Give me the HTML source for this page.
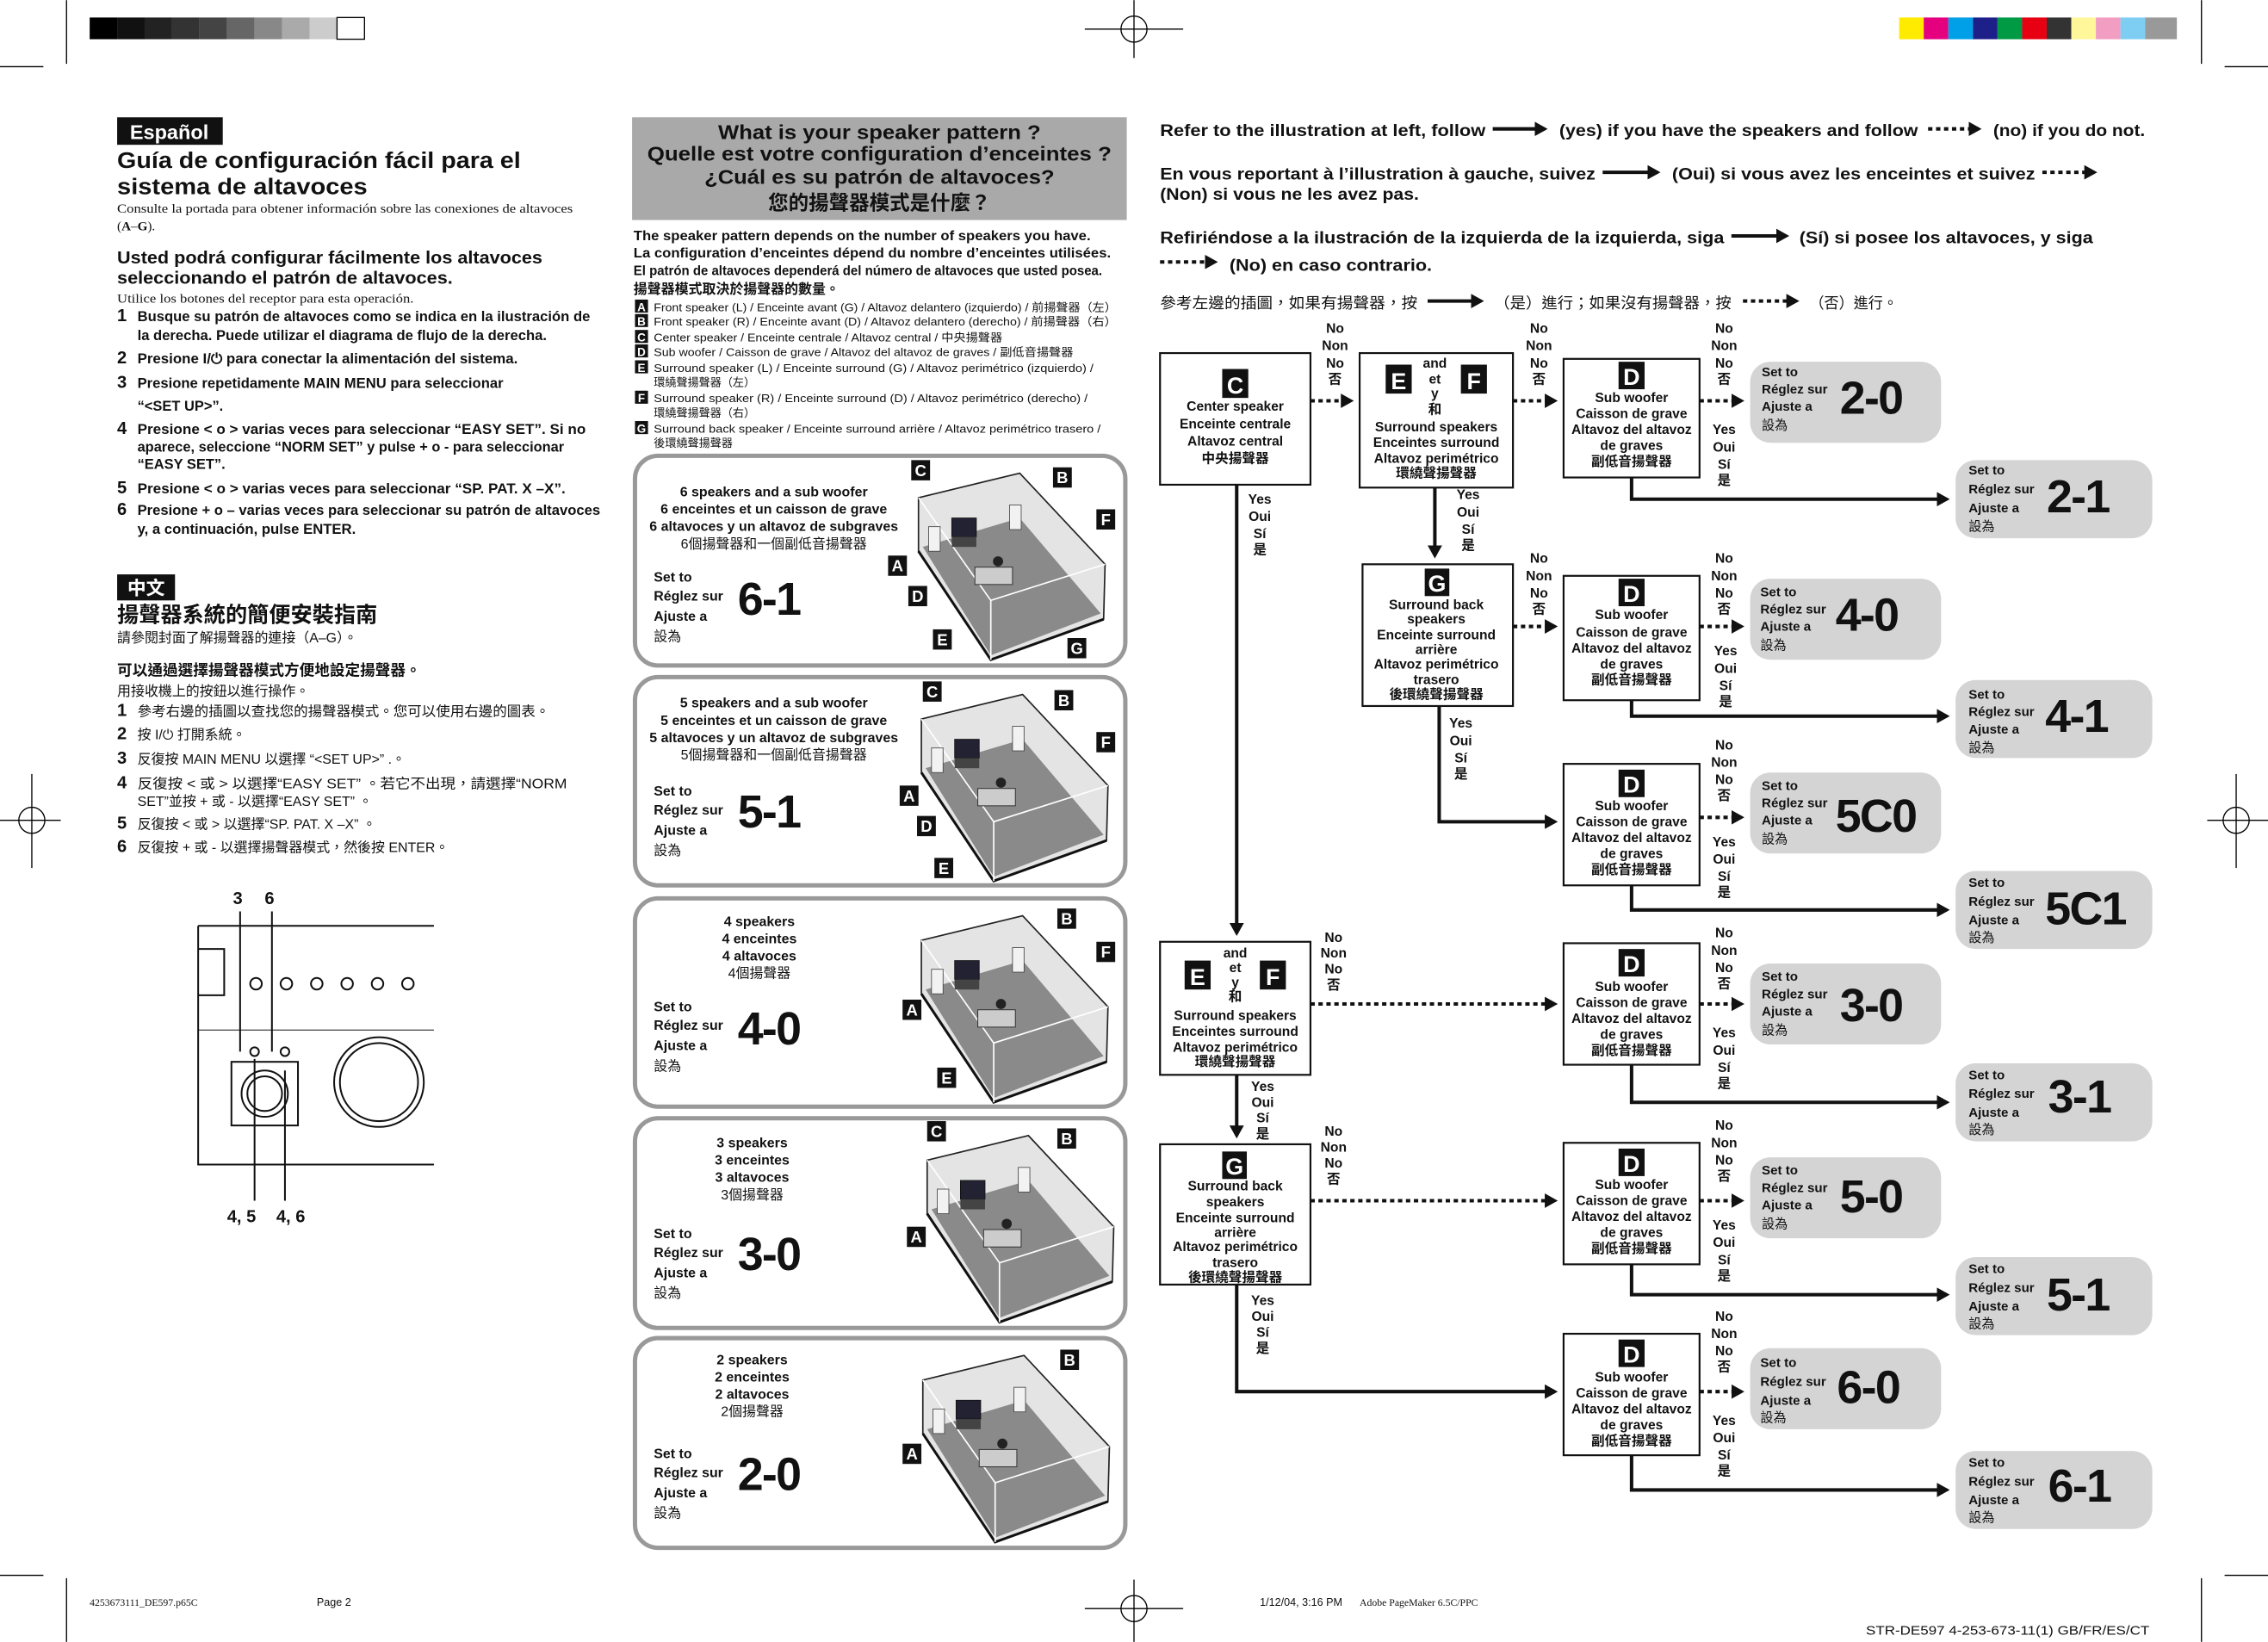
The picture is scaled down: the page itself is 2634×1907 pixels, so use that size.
<!DOCTYPE html>
<html><head><meta charset="utf-8"><style>
html,body{margin:0;padding:0;background:#fff}
svg{display:block}
text{font-family:"Liberation Sans","Noto Sans CJK TC",sans-serif;fill:#111}
.b{font-weight:bold}
.s{font-family:"Liberation Serif","Noto Serif CJK SC",serif}
.fl{font-size:9.3px;font-weight:bold;text-anchor:middle}
.yn{font-size:9.3px;font-weight:bold;text-anchor:middle}
.rs{font-size:9px;font-weight:bold}
.rn{font-size:32px;font-weight:bold;letter-spacing:-1px}
.bw{fill:#fff;font-weight:bold;text-anchor:middle}
</style></head><body>
<svg width="2634" height="1907" viewBox="0 0 1568 1135" xmlns="http://www.w3.org/2000/svg">
<defs>
<marker id="ar" markerWidth="10" markerHeight="10" refX="7" refY="5" orient="auto" markerUnits="userSpaceOnUse"><path d="M0,0 L9,5 L0,10 Z" fill="#111"/></marker>
<g id="room">
<polygon points="641,30 711,13 770,76 769,114 691,142 641,67" fill="#e4e4e4" stroke="#222" stroke-width="1"/>
<polygon points="644,64 711,44 767,110 691,139" fill="#8a8a8a"/>
<polyline points="641,67 691,142 769,114" fill="none" stroke="#111" stroke-width="1.8"/>
<polyline points="641,30 691,101 770,76" fill="none" stroke="#fff" stroke-width="1"/>
<line x1="691" y1="101" x2="691" y2="142" stroke="#fff" stroke-width="1"/>
<rect x="664" y="44" width="17" height="13" fill="#223" stroke="#111" stroke-width="0.5"/>
<rect x="664" y="57" width="17" height="7" fill="#444"/>
<rect x="648" y="50" width="8" height="17" fill="#f2f2f2" stroke="#444" stroke-width="0.5"/>
<rect x="704" y="35" width="8" height="17" fill="#f2f2f2" stroke="#444" stroke-width="0.5"/>
<rect x="680" y="78" width="26" height="12" fill="#ccc" stroke="#333" stroke-width="0.6"/>
<circle cx="696" cy="74" r="3.5" fill="#222"/>
</g>
</defs>

<!-- top color bars -->
<g>
<rect x="62" y="12" width="19" height="15" fill="#000"/><rect x="81" y="12" width="19" height="15" fill="#111"/><rect x="100" y="12" width="19" height="15" fill="#222"/><rect x="119" y="12" width="19" height="15" fill="#333"/><rect x="138" y="12" width="19" height="15" fill="#444"/><rect x="157" y="12" width="19" height="15" fill="#666"/><rect x="176" y="12" width="19" height="15" fill="#888"/><rect x="195" y="12" width="19" height="15" fill="#aaa"/><rect x="214" y="12" width="19" height="15" fill="#ccc"/><rect x="233" y="12" width="19" height="15" fill="#fff" stroke="#000" stroke-width="0.8"/>
<rect x="1313" y="12" width="17" height="15" fill="#ffeb00"/><rect x="1330" y="12" width="17" height="15" fill="#e4007f"/><rect x="1347" y="12" width="17" height="15" fill="#00a0e9"/><rect x="1364" y="12" width="17" height="15" fill="#1d2088"/><rect x="1381" y="12" width="17" height="15" fill="#009944"/><rect x="1398" y="12" width="17" height="15" fill="#e60012"/><rect x="1415" y="12" width="17" height="15" fill="#333"/><rect x="1432" y="12" width="17" height="15" fill="#fff799"/><rect x="1449" y="12" width="17" height="15" fill="#f19ec2"/><rect x="1466" y="12" width="17" height="15" fill="#7ecef4"/><rect x="1483" y="12" width="22" height="15" fill="#999"/>
</g>
<!-- crop marks -->
<g stroke="#000" stroke-width="0.8" fill="none">
<line x1="46" y1="0" x2="46" y2="44"/><line x1="0" y1="46" x2="30" y2="46"/>
<line x1="1522" y1="0" x2="1522" y2="44"/><line x1="1538" y1="46" x2="1568" y2="46"/>
<line x1="46" y1="1091" x2="46" y2="1135"/><line x1="0" y1="1089" x2="30" y2="1089"/>
<line x1="1522" y1="1091" x2="1522" y2="1135"/><line x1="1538" y1="1089" x2="1568" y2="1089"/>
<circle cx="784" cy="20" r="9"/><line x1="750" y1="20" x2="818" y2="20"/><line x1="784" y1="0" x2="784" y2="40"/>
<circle cx="784" cy="1112" r="9"/><line x1="750" y1="1112" x2="818" y2="1112"/><line x1="784" y1="1092" x2="784" y2="1135"/>
<circle cx="22" cy="567" r="9"/><line x1="0" y1="567" x2="42" y2="567"/><line x1="22" y1="535" x2="22" y2="600"/>
<circle cx="1546" cy="567" r="9"/><line x1="1526" y1="567" x2="1568" y2="567"/><line x1="1546" y1="535" x2="1546" y2="600"/>
</g>

<!-- LEFT COLUMN -->
<rect x="81" y="81" width="73" height="19" fill="#111"/>
<text x="117" y="96" class="bw" font-weight="bold" style="font-size:14px;fill:#fff">Español</text>
<text x="81" y="116" font-weight="bold" style="font-size:15.5px" textLength="279" lengthAdjust="spacingAndGlyphs">Guía de configuración fácil para el</text>
<text x="81" y="134" font-weight="bold" style="font-size:15.5px" textLength="173" lengthAdjust="spacingAndGlyphs">sistema de altavoces</text>
<text x="81" y="147" class="s" style="font-size:9px" textLength="315" lengthAdjust="spacingAndGlyphs">Consulte la portada para obtener información sobre las conexiones de altavoces</text>
<text x="81" y="159" class="s" style="font-size:9px">(<tspan font-weight="bold">A</tspan>–<tspan font-weight="bold">G</tspan>).</text>
<text x="81" y="182" font-weight="bold" style="font-size:12px" textLength="294" lengthAdjust="spacingAndGlyphs">Usted podrá configurar fácilmente los altavoces</text>
<text x="81" y="196" font-weight="bold" style="font-size:12px" textLength="232" lengthAdjust="spacingAndGlyphs">seleccionando el patrón de altavoces.</text>
<text x="81" y="209" class="s" style="font-size:9px" textLength="205" lengthAdjust="spacingAndGlyphs">Utilice los botones del receptor para esta operación.</text>
<g style="font-size:9.8px" font-weight="bold">
<text x="81" y="222" style="font-size:12px">1</text><text x="95" y="222" textLength="313" lengthAdjust="spacingAndGlyphs">Busque su patrón de altavoces como se indica en la ilustración de</text>
<text x="95" y="235" textLength="283" lengthAdjust="spacingAndGlyphs">la derecha. Puede utilizar el diagrama de flujo de la derecha.</text>
<text x="81" y="251" style="font-size:12px">2</text><text x="95" y="251" textLength="263" lengthAdjust="spacingAndGlyphs">Presione I/⏻ para conectar la alimentación del sistema.</text>
<text x="81" y="268" style="font-size:12px">3</text><text x="95" y="268" textLength="253" lengthAdjust="spacingAndGlyphs">Presione repetidamente MAIN MENU para seleccionar</text>
<text x="95" y="284">“&lt;SET UP&gt;”.</text>
<text x="81" y="300" style="font-size:12px">4</text><text x="95" y="300" textLength="310" lengthAdjust="spacingAndGlyphs">Presione &lt; o &gt; varias veces para seleccionar “EASY SET”. Si no</text>
<text x="95" y="312" textLength="295" lengthAdjust="spacingAndGlyphs">aparece, seleccione “NORM SET” y pulse + o - para seleccionar</text>
<text x="95" y="324">“EASY SET”.</text>
<text x="81" y="341" style="font-size:12px">5</text><text x="95" y="341" textLength="296" lengthAdjust="spacingAndGlyphs">Presione &lt; o &gt; varias veces para seleccionar “SP. PAT. X –X”.</text>
<text x="81" y="356" style="font-size:12px">6</text><text x="95" y="356" textLength="320" lengthAdjust="spacingAndGlyphs">Presione + o – varias veces para seleccionar su patrón de altavoces</text>
<text x="95" y="369" textLength="151" lengthAdjust="spacingAndGlyphs">y, a continuación, pulse ENTER.</text>
</g>
<rect x="81" y="397" width="40" height="18" fill="#111"/>
<text x="101" y="411" class="bw" style="font-size:13px;fill:#fff">中文</text>
<text x="81" y="430" font-weight="bold" style="font-size:15px">揚聲器系統的簡便安裝指南</text>
<text x="81" y="444" style="font-size:9.5px">請參閱封面了解揚聲器的連接（A–G）。</text>
<text x="81" y="467" font-weight="bold" style="font-size:10.5px">可以通過選擇揚聲器模式方便地設定揚聲器。</text>
<text x="81" y="481" style="font-size:9.5px">用接收機上的按鈕以進行操作。</text>
<g style="font-size:9.5px">
<text x="81" y="495" font-weight="bold" style="font-size:12px">1</text><text x="95" y="495" textLength="285" lengthAdjust="spacingAndGlyphs">參考右邊的插圖以查找您的揚聲器模式。您可以使用右邊的圖表。</text>
<text x="81" y="511" font-weight="bold" style="font-size:12px">2</text><text x="95" y="511">按 I/⏻ 打開系統。</text>
<text x="81" y="528" font-weight="bold" style="font-size:12px">3</text><text x="95" y="528">反復按 MAIN MENU 以選擇 “&lt;SET UP&gt;” .。</text>
<text x="81" y="545" font-weight="bold" style="font-size:12px">4</text><text x="95" y="545" textLength="297" lengthAdjust="spacingAndGlyphs">反復按 &lt; 或 &gt; 以選擇“EASY SET” 。若它不出現，請選擇“NORM</text>
<text x="95" y="557">SET”並按 + 或 - 以選擇“EASY SET” 。</text>
<text x="81" y="573" font-weight="bold" style="font-size:12px">5</text><text x="95" y="573">反復按 &lt; 或 &gt; 以選擇“SP. PAT. X –X” 。</text>
<text x="81" y="589" font-weight="bold" style="font-size:12px">6</text><text x="95" y="589">反復按 + 或 - 以選擇揚聲器模式，然後按 ENTER。</text>
</g>
<!-- receiver -->
<text x="161" y="625" font-weight="bold" style="font-size:12px">3</text><text x="183" y="625" font-weight="bold" style="font-size:12px">6</text>
<text x="157" y="845" font-weight="bold" style="font-size:12px">4, 5</text><text x="191" y="845" font-weight="bold" style="font-size:12px">4, 6</text>
<g stroke="#111" fill="none" stroke-width="1.2">
<path d="M137,640 L300,640 M137,640 L137,805 L300,805"/>
<path d="M137,656 L155,656 L155,688 L137,688"/>
<line x1="137" y1="712" x2="300" y2="712" stroke-width="0.6"/>
<circle cx="177" cy="680" r="4"/><circle cx="198" cy="680" r="4"/><circle cx="219" cy="680" r="4"/><circle cx="240" cy="680" r="4"/><circle cx="261" cy="680" r="4"/><circle cx="282" cy="680" r="4"/>
<circle cx="262" cy="748" r="31"/><circle cx="262" cy="748" r="27"/>
<rect x="160" y="734" width="46" height="44"/>
<circle cx="183" cy="756" r="16"/><circle cx="183" cy="756" r="12"/>
<circle cx="176" cy="727" r="3"/><circle cx="197" cy="727" r="3"/>
<line x1="166" y1="630" x2="166" y2="727"/><line x1="188" y1="630" x2="188" y2="727"/>
<line x1="176" y1="732" x2="176" y2="830"/><line x1="197" y1="740" x2="197" y2="830"/>
</g>

<!-- MIDDLE COLUMN -->
<rect x="437" y="81" width="342" height="71" fill="#a9a9a9"/>
<g font-weight="bold" style="font-size:14px" text-anchor="middle">
<text x="608" y="96" textLength="223" lengthAdjust="spacingAndGlyphs">What is your speaker pattern ?</text>
<text x="608" y="111" textLength="321" lengthAdjust="spacingAndGlyphs">Quelle est votre configuration d’enceintes ?</text>
<text x="608" y="127" textLength="242" lengthAdjust="spacingAndGlyphs">¿Cuál es su patrón de altavoces?</text>
<text x="608" y="145">您的揚聲器模式是什麼？</text>
</g>
<g style="font-size:9.5px" font-weight="bold">
<text x="438" y="166" textLength="316" lengthAdjust="spacingAndGlyphs">The speaker pattern depends on the number of speakers you have.</text>
<text x="438" y="178" textLength="330" lengthAdjust="spacingAndGlyphs">La configuration d’enceintes dépend du nombre d’enceintes utilisées.</text>
<text x="438" y="190" textLength="324" lengthAdjust="spacingAndGlyphs">El patrón de altavoces dependerá del número de altavoces que usted posea.</text>
<text x="438" y="203" style="font-size:9.5px">揚聲器模式取決於揚聲器的數量。</text>
</g>
<g style="font-size:7.8px">
<rect x="439" y="207" width="9" height="9" fill="#111"/><text x="443.5" y="215" class="bw" style="font-size:8px;fill:#fff">A</text><text x="452" y="215" textLength="320" lengthAdjust="spacingAndGlyphs">Front speaker (L) / Enceinte avant (G) / Altavoz delantero (izquierdo) / 前揚聲器（左）</text>
<rect x="439" y="217" width="9" height="9" fill="#111"/><text x="443.5" y="225" class="bw" style="font-size:8px;fill:#fff">B</text><text x="452" y="225" textLength="320" lengthAdjust="spacingAndGlyphs">Front speaker (R) / Enceinte avant (D) / Altavoz delantero (derecho) / 前揚聲器（右）</text>
<rect x="439" y="228" width="9" height="9" fill="#111"/><text x="443.5" y="236" class="bw" style="font-size:8px;fill:#fff">C</text><text x="452" y="236" textLength="241" lengthAdjust="spacingAndGlyphs">Center speaker / Enceinte centrale / Altavoz central / 中央揚聲器</text>
<rect x="439" y="238" width="9" height="9" fill="#111"/><text x="443.5" y="246" class="bw" style="font-size:8px;fill:#fff">D</text><text x="452" y="246" textLength="290" lengthAdjust="spacingAndGlyphs">Sub woofer / Caisson de grave / Altavoz del altavoz de graves / 副低音揚聲器</text>
<rect x="439" y="249" width="9" height="9" fill="#111"/><text x="443.5" y="257" class="bw" style="font-size:8px;fill:#fff">E</text><text x="452" y="257" textLength="304" lengthAdjust="spacingAndGlyphs">Surround speaker (L) / Enceinte surround (G) / Altavoz perimétrico (izquierdo) /</text>
<text x="452" y="267">環繞聲揚聲器（左）</text>
<rect x="439" y="270" width="9" height="9" fill="#111"/><text x="443.5" y="278" class="bw" style="font-size:8px;fill:#fff">F</text><text x="452" y="278" textLength="300" lengthAdjust="spacingAndGlyphs">Surround speaker (R) / Enceinte surround (D) / Altavoz perimétrico (derecho) /</text>
<text x="452" y="288">環繞聲揚聲器（右）</text>
<rect x="439" y="291" width="9" height="9" fill="#111"/><text x="443.5" y="299" class="bw" style="font-size:8px;fill:#fff">G</text><text x="452" y="299" textLength="309" lengthAdjust="spacingAndGlyphs">Surround back speaker / Enceinte surround arrière / Altavoz perimétrico trasero /</text>
<text x="452" y="309">後環繞聲揚聲器</text>
</g>

<!-- panels -->
<g fill="none" stroke="#999" stroke-width="3">
<rect x="439" y="315" width="339" height="145" rx="16"/>
<rect x="439" y="468" width="339" height="144" rx="16"/>
<rect x="439" y="621" width="339" height="144" rx="16"/>
<rect x="439" y="773" width="339" height="145" rx="16"/>
<rect x="439" y="925" width="339" height="145" rx="16"/>
</g>
<use href="#room" transform="translate(-6,314)"/>
<use href="#room" transform="translate(-4,467)"/>
<use href="#room" transform="translate(-4,620)"/>
<use href="#room" transform="translate(0,772)"/>
<use href="#room" transform="translate(-3,924)"/>
<!-- panel texts -->
<g style="font-size:9.5px" font-weight="bold" text-anchor="middle">
<text x="535" y="343">6 speakers and a sub woofer</text><text x="535" y="355">6 enceintes et un caisson de grave</text><text x="535" y="367">6 altavoces y un altavoz de subgraves</text><text x="535" y="379" font-weight="normal">6個揚聲器和一個副低音揚聲器</text>
<text x="535" y="489">5 speakers and a sub woofer</text><text x="535" y="501">5 enceintes et un caisson de grave</text><text x="535" y="513">5 altavoces y un altavoz de subgraves</text><text x="535" y="525" font-weight="normal">5個揚聲器和一個副低音揚聲器</text>
<text x="525" y="640">4 speakers</text><text x="525" y="652">4 enceintes</text><text x="525" y="664">4 altavoces</text><text x="525" y="676" font-weight="normal">4個揚聲器</text>
<text x="520" y="793">3 speakers</text><text x="520" y="805">3 enceintes</text><text x="520" y="817">3 altavoces</text><text x="520" y="829" font-weight="normal">3個揚聲器</text>
<text x="520" y="943">2 speakers</text><text x="520" y="955">2 enceintes</text><text x="520" y="967">2 altavoces</text><text x="520" y="979" font-weight="normal">2個揚聲器</text>
</g>
<g style="font-size:9.5px" font-weight="bold">
<text x="452" y="402">Set to</text><text x="452" y="415">Réglez sur</text><text x="452" y="429">Ajuste a</text><text x="452" y="443" font-weight="normal">設為</text>
<text x="452" y="550">Set to</text><text x="452" y="563">Réglez sur</text><text x="452" y="577">Ajuste a</text><text x="452" y="591" font-weight="normal">設為</text>
<text x="452" y="699">Set to</text><text x="452" y="712">Réglez sur</text><text x="452" y="726">Ajuste a</text><text x="452" y="740" font-weight="normal">設為</text>
<text x="452" y="856">Set to</text><text x="452" y="869">Réglez sur</text><text x="452" y="883">Ajuste a</text><text x="452" y="897" font-weight="normal">設為</text>
<text x="452" y="1008">Set to</text><text x="452" y="1021">Réglez sur</text><text x="452" y="1035">Ajuste a</text><text x="452" y="1049" font-weight="normal">設為</text>
</g>
<g class="rn">
<text x="510" y="425">6-1</text><text x="510" y="572">5-1</text><text x="510" y="722">4-0</text><text x="510" y="878">3-0</text><text x="510" y="1030">2-0</text>
</g>
<!-- panel letter badges -->
<g>
<rect x="630" y="318" width="13" height="14" fill="#111"/><text x="636.5" y="329" class="bw" style="font-size:11px;fill:#fff">C</text>
<rect x="728" y="323" width="13" height="14" fill="#111"/><text x="734.5" y="334" class="bw" style="font-size:11px;fill:#fff">B</text>
<rect x="758" y="352" width="13" height="14" fill="#111"/><text x="764.5" y="363" class="bw" style="font-size:11px;fill:#fff">F</text>
<rect x="614" y="384" width="13" height="14" fill="#111"/><text x="620.5" y="395" class="bw" style="font-size:11px;fill:#fff">A</text>
<rect x="628" y="405" width="13" height="14" fill="#111"/><text x="634.5" y="416" class="bw" style="font-size:11px;fill:#fff">D</text>
<rect x="645" y="435" width="13" height="14" fill="#111"/><text x="651.5" y="446" class="bw" style="font-size:11px;fill:#fff">E</text>
<rect x="738" y="441" width="13" height="14" fill="#111"/><text x="744.5" y="452" class="bw" style="font-size:11px;fill:#fff">G</text>

<rect x="638" y="471" width="13" height="14" fill="#111"/><text x="644.5" y="482" class="bw" style="font-size:11px;fill:#fff">C</text>
<rect x="729" y="477" width="13" height="14" fill="#111"/><text x="735.5" y="488" class="bw" style="font-size:11px;fill:#fff">B</text>
<rect x="758" y="506" width="13" height="14" fill="#111"/><text x="764.5" y="517" class="bw" style="font-size:11px;fill:#fff">F</text>
<rect x="622" y="543" width="13" height="14" fill="#111"/><text x="628.5" y="554" class="bw" style="font-size:11px;fill:#fff">A</text>
<rect x="634" y="564" width="13" height="14" fill="#111"/><text x="640.5" y="575" class="bw" style="font-size:11px;fill:#fff">D</text>
<rect x="646" y="593" width="13" height="14" fill="#111"/><text x="652.5" y="604" class="bw" style="font-size:11px;fill:#fff">E</text>

<rect x="731" y="628" width="13" height="14" fill="#111"/><text x="737.5" y="639" class="bw" style="font-size:11px;fill:#fff">B</text>
<rect x="758" y="651" width="13" height="14" fill="#111"/><text x="764.5" y="662" class="bw" style="font-size:11px;fill:#fff">F</text>
<rect x="624" y="691" width="13" height="14" fill="#111"/><text x="630.5" y="702" class="bw" style="font-size:11px;fill:#fff">A</text>
<rect x="648" y="738" width="13" height="14" fill="#111"/><text x="654.5" y="749" class="bw" style="font-size:11px;fill:#fff">E</text>

<rect x="641" y="775" width="13" height="14" fill="#111"/><text x="647.5" y="786" class="bw" style="font-size:11px;fill:#fff">C</text>
<rect x="731" y="780" width="13" height="14" fill="#111"/><text x="737.5" y="791" class="bw" style="font-size:11px;fill:#fff">B</text>
<rect x="627" y="848" width="13" height="14" fill="#111"/><text x="633.5" y="859" class="bw" style="font-size:11px;fill:#fff">A</text>

<rect x="733" y="933" width="13" height="14" fill="#111"/><text x="739.5" y="944" class="bw" style="font-size:11px;fill:#fff">B</text>
<rect x="624" y="998" width="13" height="14" fill="#111"/><text x="630.5" y="1009" class="bw" style="font-size:11px;fill:#fff">A</text>
</g>

<!-- RIGHT TOP TEXT -->
<g style="font-size:11.5px" font-weight="bold">
<text x="802" y="94" textLength="225" lengthAdjust="spacingAndGlyphs">Refer to the illustration at left, follow</text>
<text x="1078" y="94" textLength="248" lengthAdjust="spacingAndGlyphs">(yes) if you have the speakers and follow</text>
<text x="1378" y="94" textLength="105" lengthAdjust="spacingAndGlyphs">(no) if you do not.</text>
<text x="802" y="124" textLength="301" lengthAdjust="spacingAndGlyphs">En vous reportant à l’illustration à gauche, suivez</text>
<text x="1156" y="124" textLength="251" lengthAdjust="spacingAndGlyphs">(Oui) si vous avez les enceintes et suivez</text>
<text x="802" y="138" textLength="179" lengthAdjust="spacingAndGlyphs">(Non) si vous ne les avez pas.</text>
<text x="802" y="168" textLength="390" lengthAdjust="spacingAndGlyphs">Refiriéndose a la ilustración de la izquierda de la izquierda, siga</text>
<text x="1244" y="168" textLength="203" lengthAdjust="spacingAndGlyphs">(Sí) si posee los altavoces, y siga</text>
<text x="850" y="187" textLength="140" lengthAdjust="spacingAndGlyphs">(No) en caso contrario.</text>
<text x="802" y="213" font-weight="normal" textLength="178" lengthAdjust="spacingAndGlyphs" style="font-size:10.5px">參考左邊的插圖，如果有揚聲器，按</text>
<text x="1033" y="213" font-weight="normal" textLength="164" lengthAdjust="spacingAndGlyphs" style="font-size:10.5px">（是）進行；如果沒有揚聲器，按</text>
<text x="1251" y="213" font-weight="normal" textLength="61" lengthAdjust="spacingAndGlyphs" style="font-size:10.5px">（否）進行。</text>
</g>
<g stroke="#111" stroke-width="2.4" fill="none">
<line x1="1032" y1="89" x2="1068" y2="89" marker-end="url(#ar)"/>
<line x1="1333" y1="89" x2="1368" y2="89" stroke-dasharray="3,2.5" marker-end="url(#ar)"/>
<line x1="1108" y1="119" x2="1146" y2="119" marker-end="url(#ar)"/>
<line x1="1412" y1="119" x2="1448" y2="119" stroke-dasharray="3,2.5" marker-end="url(#ar)"/>
<line x1="1197" y1="163" x2="1235" y2="163" marker-end="url(#ar)"/>
<line x1="802" y1="181" x2="840" y2="181" stroke-dasharray="3,2.5" marker-end="url(#ar)"/>
<line x1="987" y1="208" x2="1024" y2="208" marker-end="url(#ar)"/>
<line x1="1205" y1="208" x2="1242" y2="208" stroke-dasharray="3,2.5" marker-end="url(#ar)"/>
</g>

<!-- FLOWCHART: result gray boxes -->
<g fill="#d4d4d4">
<rect x="1210" y="250" width="132" height="56" rx="14"/><rect x="1352" y="318" width="136" height="54" rx="14"/>
<rect x="1210" y="400" width="132" height="56" rx="14"/><rect x="1352" y="470" width="136" height="54" rx="14"/>
<rect x="1210" y="534" width="132" height="56" rx="14"/><rect x="1352" y="602" width="136" height="54" rx="14"/>
<rect x="1210" y="666" width="132" height="56" rx="14"/><rect x="1352" y="735" width="136" height="54" rx="14"/>
<rect x="1210" y="800" width="132" height="56" rx="14"/><rect x="1352" y="869" width="136" height="54" rx="14"/>
<rect x="1210" y="932" width="132" height="56" rx="14"/><rect x="1352" y="1003" width="136" height="54" rx="14"/>
</g>
<g class="rs">
<text x="1218" y="260">Set to</text><text x="1218" y="272">Réglez sur</text><text x="1218" y="284">Ajuste a</text><text x="1218" y="297" font-weight="normal">設為</text>
<text x="1361" y="328">Set to</text><text x="1361" y="341">Réglez sur</text><text x="1361" y="354">Ajuste a</text><text x="1361" y="367" font-weight="normal">設為</text>
<text x="1217" y="412">Set to</text><text x="1217" y="424">Réglez sur</text><text x="1217" y="436">Ajuste a</text><text x="1217" y="449" font-weight="normal">設為</text>
<text x="1361" y="483">Set to</text><text x="1361" y="495">Réglez sur</text><text x="1361" y="507">Ajuste a</text><text x="1361" y="520" font-weight="normal">設為</text>
<text x="1218" y="546">Set to</text><text x="1218" y="558">Réglez sur</text><text x="1218" y="570">Ajuste a</text><text x="1218" y="583" font-weight="normal">設為</text>
<text x="1361" y="613">Set to</text><text x="1361" y="626">Réglez sur</text><text x="1361" y="639">Ajuste a</text><text x="1361" y="651" font-weight="normal">設為</text>
<text x="1218" y="678">Set to</text><text x="1218" y="690">Réglez sur</text><text x="1218" y="702">Ajuste a</text><text x="1218" y="715" font-weight="normal">設為</text>
<text x="1361" y="746">Set to</text><text x="1361" y="759">Réglez sur</text><text x="1361" y="772">Ajuste a</text><text x="1361" y="784" font-weight="normal">設為</text>
<text x="1218" y="812">Set to</text><text x="1218" y="824">Réglez sur</text><text x="1218" y="836">Ajuste a</text><text x="1218" y="849" font-weight="normal">設為</text>
<text x="1361" y="880">Set to</text><text x="1361" y="893">Réglez sur</text><text x="1361" y="906">Ajuste a</text><text x="1361" y="918" font-weight="normal">設為</text>
<text x="1217" y="945">Set to</text><text x="1217" y="958">Réglez sur</text><text x="1217" y="971">Ajuste a</text><text x="1217" y="983" font-weight="normal">設為</text>
<text x="1361" y="1014">Set to</text><text x="1361" y="1027">Réglez sur</text><text x="1361" y="1040">Ajuste a</text><text x="1361" y="1052" font-weight="normal">設為</text>
</g>
<g class="rn">
<text x="1272" y="286">2-0</text><text x="1415" y="354">2-1</text>
<text x="1269" y="436">4-0</text><text x="1414" y="506">4-1</text>
<text x="1269" y="575">5C0</text><text x="1414" y="639">5C1</text>
<text x="1272" y="706">3-0</text><text x="1416" y="769">3-1</text>
<text x="1272" y="838">5-0</text><text x="1415" y="906">5-1</text>
<text x="1270" y="970">6-0</text><text x="1416" y="1038">6-1</text>
</g>

<!-- flowchart boxes -->
<g fill="#fff" stroke="#111" stroke-width="1.3">
<rect x="802" y="244" width="104" height="91"/>
<rect x="940" y="244" width="106" height="93"/>
<rect x="942" y="390" width="104" height="98"/>
<rect x="802" y="651" width="104" height="92"/>
<rect x="802" y="791" width="104" height="97"/>
<rect x="1081" y="248" width="94" height="82"/>
<rect x="1081" y="398" width="94" height="86"/>
<rect x="1081" y="528" width="94" height="84"/>
<rect x="1081" y="652" width="94" height="84"/>
<rect x="1081" y="790" width="94" height="84"/>
<rect x="1081" y="922" width="94" height="84"/>
</g>
<g fill="#111">
<rect x="845" y="255" width="18" height="20"/><rect x="958" y="252" width="18" height="20"/><rect x="1010" y="252" width="18" height="20"/>
<rect x="985" y="393" width="17" height="19"/>
<rect x="819" y="664" width="18" height="20"/><rect x="871" y="664" width="18" height="20"/>
<rect x="845" y="796" width="17" height="19"/>
<rect x="1119" y="250" width="18" height="19"/><rect x="1119" y="400" width="18" height="19"/><rect x="1119" y="532" width="18" height="19"/><rect x="1119" y="656" width="18" height="19"/><rect x="1119" y="794" width="18" height="19"/><rect x="1119" y="926" width="18" height="19"/>
</g>
<g class="bw" style="font-size:16px;fill:#fff">
<text x="854" y="272" style="fill:#fff">C</text><text x="967" y="269" style="fill:#fff">E</text><text x="1019" y="269" style="fill:#fff">F</text>
<text x="993.5" y="409" style="fill:#fff">G</text>
<text x="828" y="681" style="fill:#fff">E</text><text x="880" y="681" style="fill:#fff">F</text>
<text x="853.5" y="812" style="fill:#fff">G</text>
<text x="1128" y="266" style="fill:#fff">D</text><text x="1128" y="416" style="fill:#fff">D</text><text x="1128" y="548" style="fill:#fff">D</text><text x="1128" y="672" style="fill:#fff">D</text><text x="1128" y="810" style="fill:#fff">D</text><text x="1128" y="942" style="fill:#fff">D</text>
</g>
<g class="fl">
<text x="854" y="284">Center speaker</text><text x="854" y="296">Enceinte centrale</text><text x="854" y="308">Altavoz central</text><text x="854" y="320">中央揚聲器</text>
<text x="992" y="254">and</text><text x="992" y="265">et</text><text x="992" y="275">y</text><text x="992" y="286">和</text>
<text x="993" y="298">Surround speakers</text><text x="993" y="309">Enceintes surround</text><text x="993" y="320">Altavoz perimétrico</text><text x="993" y="330">環繞聲揚聲器</text>
<text x="993" y="421">Surround back</text><text x="993" y="431">speakers</text><text x="993" y="442">Enceinte surround</text><text x="993" y="452">arrière</text><text x="993" y="462">Altavoz perimétrico</text><text x="993" y="473">trasero</text><text x="993" y="483">後環繞聲揚聲器</text>
<text x="854" y="662">and</text><text x="854" y="672">et</text><text x="854" y="682">y</text><text x="854" y="692">和</text>
<text x="854" y="705">Surround speakers</text><text x="854" y="716">Enceintes surround</text><text x="854" y="727">Altavoz perimétrico</text><text x="854" y="737">環繞聲揚聲器</text>
<text x="854" y="823">Surround back</text><text x="854" y="834">speakers</text><text x="854" y="845">Enceinte surround</text><text x="854" y="855">arrière</text><text x="854" y="865">Altavoz perimétrico</text><text x="854" y="876">trasero</text><text x="854" y="886">後環繞聲揚聲器</text>
</g>
<g class="fl">
<text x="1128" y="278">Sub woofer</text><text x="1128" y="289">Caisson de grave</text><text x="1128" y="300">Altavoz del altavoz</text><text x="1128" y="311">de graves</text><text x="1128" y="322">副低音揚聲器</text>
<text x="1128" y="428">Sub woofer</text><text x="1128" y="440">Caisson de grave</text><text x="1128" y="451">Altavoz del altavoz</text><text x="1128" y="462">de graves</text><text x="1128" y="473">副低音揚聲器</text>
<text x="1128" y="560">Sub woofer</text><text x="1128" y="571">Caisson de grave</text><text x="1128" y="582">Altavoz del altavoz</text><text x="1128" y="593">de graves</text><text x="1128" y="604">副低音揚聲器</text>
<text x="1128" y="685">Sub woofer</text><text x="1128" y="696">Caisson de grave</text><text x="1128" y="707">Altavoz del altavoz</text><text x="1128" y="718">de graves</text><text x="1128" y="729">副低音揚聲器</text>
<text x="1128" y="822">Sub woofer</text><text x="1128" y="833">Caisson de grave</text><text x="1128" y="844">Altavoz del altavoz</text><text x="1128" y="855">de graves</text><text x="1128" y="866">副低音揚聲器</text>
<text x="1128" y="955">Sub woofer</text><text x="1128" y="966">Caisson de grave</text><text x="1128" y="977">Altavoz del altavoz</text><text x="1128" y="988">de graves</text><text x="1128" y="999">副低音揚聲器</text>
</g>
<g class="yn">
<text x="923" y="230">No</text><text x="923" y="242">Non</text><text x="923" y="254">No</text><text x="923" y="265">否</text>
<text x="1064" y="230">No</text><text x="1064" y="242">Non</text><text x="1064" y="254">No</text><text x="1064" y="265">否</text>
<text x="1192" y="230">No</text><text x="1192" y="242">Non</text><text x="1192" y="254">No</text><text x="1192" y="265">否</text>
<text x="1192" y="300">Yes</text><text x="1192" y="312">Oui</text><text x="1192" y="324">Sí</text><text x="1192" y="335">是</text>
<text x="871" y="348">Yes</text><text x="871" y="360">Oui</text><text x="871" y="372">Sí</text><text x="871" y="383">是</text>
<text x="1015" y="345">Yes</text><text x="1015" y="357">Oui</text><text x="1015" y="369">Sí</text><text x="1015" y="380">是</text>
<text x="1064" y="389">No</text><text x="1064" y="401">Non</text><text x="1064" y="413">No</text><text x="1064" y="424">否</text>
<text x="1192" y="389">No</text><text x="1192" y="401">Non</text><text x="1192" y="413">No</text><text x="1192" y="424">否</text>
<text x="1193" y="453">Yes</text><text x="1193" y="465">Oui</text><text x="1193" y="477">Sí</text><text x="1193" y="488">是</text>
<text x="1010" y="503">Yes</text><text x="1010" y="515">Oui</text><text x="1010" y="527">Sí</text><text x="1010" y="538">是</text>
<text x="1192" y="518">No</text><text x="1192" y="530">Non</text><text x="1192" y="542">No</text><text x="1192" y="553">否</text>
<text x="1192" y="585">Yes</text><text x="1192" y="597">Oui</text><text x="1192" y="609">Sí</text><text x="1192" y="620">是</text>
<text x="922" y="651">No</text><text x="922" y="662">Non</text><text x="922" y="673">No</text><text x="922" y="684">否</text>
<text x="1192" y="648">No</text><text x="1192" y="660">Non</text><text x="1192" y="672">No</text><text x="1192" y="683">否</text>
<text x="1192" y="717">Yes</text><text x="1192" y="729">Oui</text><text x="1192" y="741">Sí</text><text x="1192" y="752">是</text>
<text x="873" y="754">Yes</text><text x="873" y="765">Oui</text><text x="873" y="776">Sí</text><text x="873" y="787">是</text>
<text x="922" y="785">No</text><text x="922" y="796">Non</text><text x="922" y="807">No</text><text x="922" y="818">否</text>
<text x="1192" y="781">No</text><text x="1192" y="793">Non</text><text x="1192" y="805">No</text><text x="1192" y="816">否</text>
<text x="1192" y="850">Yes</text><text x="1192" y="862">Oui</text><text x="1192" y="874">Sí</text><text x="1192" y="885">是</text>
<text x="873" y="902">Yes</text><text x="873" y="913">Oui</text><text x="873" y="924">Sí</text><text x="873" y="935">是</text>
<text x="1192" y="913">No</text><text x="1192" y="925">Non</text><text x="1192" y="937">No</text><text x="1192" y="948">否</text>
<text x="1192" y="985">Yes</text><text x="1192" y="997">Oui</text><text x="1192" y="1009">Sí</text><text x="1192" y="1020">是</text>
</g>
<g stroke="#111" stroke-width="2.4" fill="none">
<g stroke-dasharray="3,2.5">
<line x1="906" y1="277" x2="934" y2="277" marker-end="url(#ar)"/>
<line x1="1046" y1="277" x2="1075" y2="277" marker-end="url(#ar)"/>
<line x1="1175" y1="277" x2="1204" y2="277" marker-end="url(#ar)"/>
<line x1="1046" y1="433" x2="1075" y2="433" marker-end="url(#ar)"/>
<line x1="1175" y1="433" x2="1204" y2="433" marker-end="url(#ar)"/>
<line x1="1175" y1="565" x2="1204" y2="565" marker-end="url(#ar)"/>
<line x1="906" y1="694" x2="1075" y2="694" marker-end="url(#ar)"/>
<line x1="1175" y1="694" x2="1204" y2="694" marker-end="url(#ar)"/>
<line x1="906" y1="830" x2="1075" y2="830" marker-end="url(#ar)"/>
<line x1="1175" y1="830" x2="1204" y2="830" marker-end="url(#ar)"/>
<line x1="1175" y1="962" x2="1204" y2="962" marker-end="url(#ar)"/>
</g>
<polyline points="1128,330 1128,345 1346,345" marker-end="url(#ar)"/>
<polyline points="1128,484 1128,495 1346,495" marker-end="url(#ar)"/>
<polyline points="1128,612 1128,629 1346,629" marker-end="url(#ar)"/>
<polyline points="1128,736 1128,762 1346,762" marker-end="url(#ar)"/>
<polyline points="1128,874 1128,895 1346,895" marker-end="url(#ar)"/>
<polyline points="1128,1006 1128,1030 1346,1030" marker-end="url(#ar)"/>
<line x1="855" y1="335" x2="855" y2="645" marker-end="url(#ar)"/>
<line x1="992" y1="337" x2="992" y2="384" marker-end="url(#ar)"/>
<polyline points="995,488 995,568 1075,568" marker-end="url(#ar)"/>
<line x1="855" y1="743" x2="855" y2="785" marker-end="url(#ar)"/>
<polyline points="855,888 855,962 1075,962" marker-end="url(#ar)"/>
</g>

<!-- footer -->
<text x="62" y="1110" class="s" style="font-size:7px">4253673111_DE597.p65C</text>
<text x="219" y="1110" style="font-size:7.5px">Page 2</text>
<text x="871" y="1110" style="font-size:7.5px">1/12/04, 3:16 PM</text>
<text x="940" y="1110" class="s" style="font-size:7px">Adobe PageMaker 6.5C/PPC</text>
<text x="1290" y="1130" style="font-size:9px" textLength="196" lengthAdjust="spacingAndGlyphs">STR-DE597  4-253-673-11(1) GB/FR/ES/CT</text>
</svg>
</body></html>
